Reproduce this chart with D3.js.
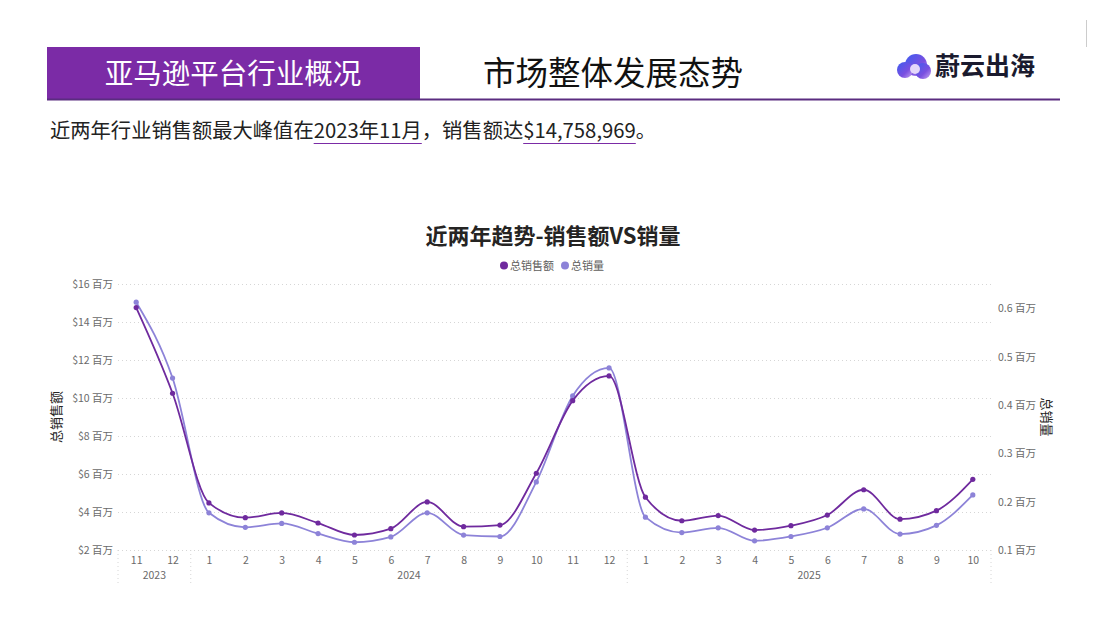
<!DOCTYPE html>
<html>
<head>
<meta charset="utf-8">
<script src="https://cdn.jsdelivr.net/npm/d3@7"></script>
<style>
  body { margin: 0; background: #fff; }
  svg { font-family: "Noto Sans CJK SC", "Noto Sans", sans-serif; }
</style>
</head>
<body>
<svg id="chart" width="1107" height="640"></svg>
<script>
// month labels and year groups
var months = ["11","12","1","2","3","4","5","6","7","8","9","10","11","12","1","2","3","4","5","6","7","8","9","10"];
var years = [
  {label: "2023", from: 0, to: 1},
  {label: "2024", from: 2, to: 13},
  {label: "2025", from: 14, to: 23}
];
// 总销售额, 百万美元
var sales = [14.76, 10.25, 4.48, 3.70, 3.95, 3.42, 2.79, 3.12, 4.53, 3.23, 3.31, 6.04,
             9.86, 11.16, 4.78, 3.54, 3.81, 3.05, 3.28, 3.84, 5.17, 3.62, 4.07, 5.72];
// 总销量, 百万
var volume = [0.613, 0.456, 0.177, 0.147, 0.155, 0.134, 0.116, 0.127, 0.177, 0.131, 0.128, 0.241,
              0.419, 0.477, 0.168, 0.136, 0.146, 0.119, 0.128, 0.146, 0.185, 0.133, 0.151, 0.214];
var leftTicks = [2, 4, 6, 8, 10, 12, 14, 16];
var rightTicks = [0.1, 0.2, 0.3, 0.4, 0.5, 0.6];

var salesColor = "#6f2a9e";
var volColor = "#8d83d8";

var svg = d3.select("#chart");

// ---- page header ----
svg.append("rect").attr("x", 47).attr("y", 47).attr("width", 373).attr("height", 53).attr("fill", "#7b2ba6");
svg.append("line").attr("x1", 47).attr("x2", 1060).attr("y1", 99.5).attr("y2", 99.5)
   .attr("stroke", "#5a2c80").attr("stroke-width", 2);
svg.append("text").attr("x", 233).attr("y", 84).attr("text-anchor", "middle")
   .attr("font-size", 28.5).attr("fill", "#fff").text("亚马逊平台行业概况");
svg.append("text").attr("x", 613).attr("y", 85).attr("text-anchor", "middle")
   .attr("font-size", 32.5).attr("fill", "#111").text("市场整体发展态势");
svg.append("line").attr("x1", 1086.5).attr("x2", 1086.5).attr("y1", 20).attr("y2", 47)
   .attr("stroke", "#ccc").attr("stroke-width", 1);

// logo
var grad = svg.append("defs").append("linearGradient").attr("id", "cloud")
  .attr("x1", "0%").attr("y1", "0%").attr("x2", "100%").attr("y2", "100%");
grad.append("stop").attr("offset", "0%").attr("stop-color", "#3d5cf0");
grad.append("stop").attr("offset", "60%").attr("stop-color", "#7a4fe0");
grad.append("stop").attr("offset", "100%").attr("stop-color", "#c9a8f0");
var logo = svg.append("g").attr("transform", "translate(897,54)");
logo.append("circle").attr("cx", 19).attr("cy", 11).attr("r", 11).attr("fill", "url(#cloud)");
logo.append("circle").attr("cx", 8).attr("cy", 16).attr("r", 8).attr("fill", "url(#cloud)");
logo.append("circle").attr("cx", 26).attr("cy", 17).attr("r", 8).attr("fill", "url(#cloud)");
logo.append("circle").attr("cx", 18).attr("cy", 15).attr("r", 5).attr("fill", "#e4d6fa");
svg.append("text").attr("x", 935).attr("y", 75).attr("font-size", 25).attr("font-weight", "bold")
   .attr("fill", "#1a1a2e").text("蔚云出海");

// summary line
var sub = svg.append("text").attr("x", 50).attr("y", 138).attr("font-size", 20.3).attr("fill", "#222");
sub.append("tspan").text("近两年行业销售额最大峰值在");
sub.append("tspan").attr("id", "u1").text("2023年11月");
sub.append("tspan").text("，销售额达");
sub.append("tspan").attr("id", "u2").text("$14,758,969");
sub.append("tspan").text("。");
["#u1", "#u2"].forEach(function(id) {
  var b = svg.select(id).node().getBBox();
  svg.append("line").attr("x1", b.x).attr("x2", b.x + b.width)
     .attr("y1", 143.5).attr("y2", 143.5).attr("stroke", "#7b2ba6").attr("stroke-width", 1.2);
});

// ---- chart ----
var plotTop = 284, plotBottom = 550, plotLeft = 118, plotRight = 991;

var x = d3.scalePoint().domain(d3.range(months.length)).range([plotLeft, plotRight]).padding(0.5);
var yL = d3.scaleLinear().domain([2, 16]).range([plotBottom, plotTop]);
var yR = d3.scaleLinear().domain([0.1, 0.6507]).range([plotBottom, plotTop]);

svg.append("text").attr("x", 553).attr("y", 244).attr("text-anchor", "middle")
   .attr("font-size", 22).attr("font-weight", "bold").attr("fill", "#252423")
   .text("近两年趋势-销售额VS销量");

// legend
var legend = [{name: "总销售额", color: salesColor, x: 500}, {name: "总销量", color: volColor, x: 561}];
legend.forEach(function(l) {
  svg.append("circle").attr("cx", l.x + 4).attr("cy", 265.5).attr("r", 4).attr("fill", l.color);
  svg.append("text").attr("x", l.x + 10).attr("y", 269.5).attr("font-size", 11).attr("fill", "#605e5c").text(l.name);
});

// grid + left axis
var gridAxis = d3.axisLeft(yL).tickValues(leftTicks).tickSize(-(plotRight - plotLeft))
  .tickFormat(function(d) { return "$" + d + " 百万"; });
var gL = svg.append("g").attr("transform", "translate(" + plotLeft + ",0)").call(gridAxis);
gL.select(".domain").remove();
gL.selectAll(".tick line").attr("stroke", "#d6d6d6").attr("stroke-dasharray", "1,3");
gL.selectAll(".tick text").attr("x", -5).attr("font-size", 10.5).attr("fill", "#6a6a6a")
   .attr("font-family", "'Noto Sans CJK SC', sans-serif");

// right axis
var gR = svg.append("g").attr("transform", "translate(" + (plotRight + 5) + ",0)")
  .call(d3.axisRight(yR).tickValues(rightTicks).tickSize(0).tickFormat(function(d) { return d3.format(".1f")(d) + " 百万"; }));
gR.select(".domain").remove();
gR.selectAll(".tick text").attr("x", 2).attr("font-size", 10.5).attr("fill", "#6a6a6a")
   .attr("font-family", "'Noto Sans CJK SC', sans-serif");

// axis titles
svg.append("text").attr("transform", "translate(61,417) rotate(-90)").attr("text-anchor", "middle")
   .attr("font-size", 13).attr("fill", "#252423").text("总销售额");
svg.append("text").attr("transform", "translate(1042,417) rotate(90)").attr("text-anchor", "middle")
   .attr("font-size", 13).attr("fill", "#252423").text("总销量");

// x axis: months
var gX = svg.append("g").attr("transform", "translate(0," + plotBottom + ")")
  .call(d3.axisBottom(x).tickSize(0).tickFormat(function(i) { return months[i]; }));
gX.select(".domain").remove();
gX.selectAll(".tick text").attr("dy", "1.05em").attr("font-size", 10.5).attr("fill", "#6a6a6a")
   .attr("font-family", "'Noto Sans CJK SC', sans-serif");

// year separators and labels
var step = x.step();
var seps = [plotLeft, x(2) - step / 2, x(14) - step / 2, plotRight];
svg.selectAll(".sep").data(seps).enter().append("line")
   .attr("x1", function(d) { return d; }).attr("x2", function(d) { return d; })
   .attr("y1", plotBottom).attr("y2", 584)
   .attr("stroke", "#d6d6d6").attr("stroke-dasharray", "1,3");
svg.selectAll(".yr").data(years).enter().append("text")
   .attr("x", function(d) { return (x(d.from) + x(d.to)) / 2; })
   .attr("y", 579).attr("text-anchor", "middle").attr("font-size", 10.5).attr("fill", "#6a6a6a")
   .text(function(d) { return d.label; });

// lines
function drawSeries(values, yScale, color) {
  var line = d3.line()
    .x(function(d, i) { return x(i); })
    .y(function(d) { return yScale(d); })
    .curve(d3.curveMonotoneX);
  svg.append("path").datum(values).attr("d", line).attr("fill", "none")
     .attr("stroke", color).attr("stroke-width", 1.8);
  svg.append("g").selectAll("circle").data(values).enter().append("circle")
     .attr("cx", function(d, i) { return x(i); })
     .attr("cy", function(d) { return yScale(d); })
     .attr("r", 2.6).attr("fill", color);
}
drawSeries(volume, yR, volColor);
drawSeries(sales, yL, salesColor);
</script>
</body>
</html>
